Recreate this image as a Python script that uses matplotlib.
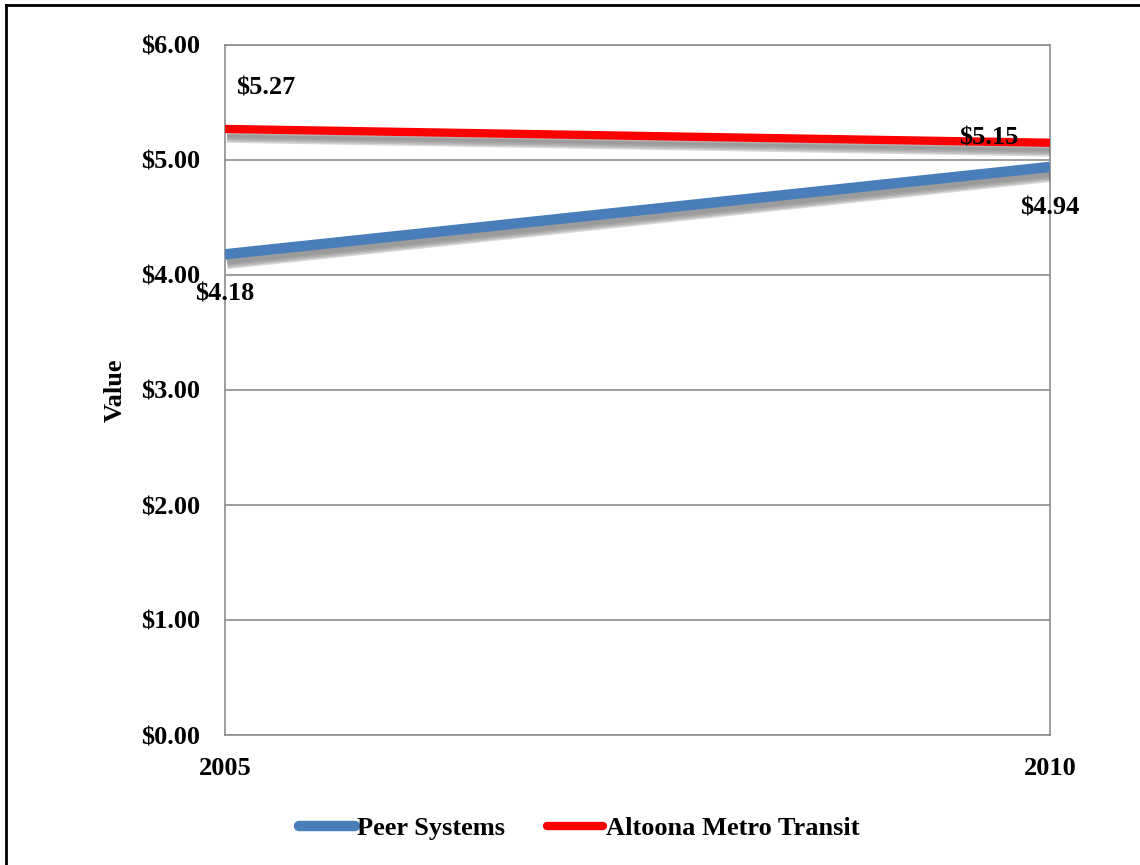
''' line chart of cost per unit, peer systems vs Altoona
'''
import matplotlib
import matplotlib.pyplot as plt
import matplotlib.ticker as mtick
import matplotlib.patheffects as pe
from matplotlib.lines import Line2D

matplotlib.use('Agg')

YEARS = ['2005', '2010']
PEER = [4.18, 4.94]
ALTOONA = [5.27, 5.15]
Y_TICKS = [0, 1, 2, 3, 4, 5, 6]

BLUE = '#4a7ebb'
RED = '#ff0000'
FONT = 'Liberation Serif'
FS = 19


def shadow():
    # fake a soft drop shadow with stacked offsets
    effects = []
    for i, a in enumerate([0.08, 0.10, 0.13, 0.16, 0.2]):
        effects.append(pe.SimpleLineShadow(offset=(1.5, -3 - i * 1.0),
                                           shadow_color='#404040', alpha=a))
    effects.append(pe.Normal())
    return effects


plt.rcParams['font.family'] = FONT
plt.rcParams['font.weight'] = 'bold'

fig = plt.figure(figsize=(11.4, 8.65), dpi=100)
ax = fig.add_axes([225 / 1140, 1 - 735 / 865, 825 / 1140, 690 / 865])

x = list(range(len(YEARS)))
ax.plot(x, PEER, color=BLUE, lw=7.5, solid_capstyle='butt', path_effects=shadow(), zorder=3)
ax.plot(x, ALTOONA, color=RED, lw=6, solid_capstyle='butt', path_effects=shadow(), zorder=4)

ax.set_xlim(0, 1)
ax.set_ylim(0, 6)
ax.set_xticks(x)
ax.set_xticklabels(YEARS, fontsize=FS, fontweight='bold')
ax.set_yticks(Y_TICKS)
ax.yaxis.set_major_formatter(mtick.StrMethodFormatter('${x:,.2f}'))
for lbl in ax.get_yticklabels():
    lbl.set_fontweight('bold')
ax.tick_params(axis='y', length=0, pad=18, labelsize=FS)
ax.tick_params(axis='x', length=0, pad=16, labelsize=FS)
ax.yaxis.grid(True, color='#8c8c8c', lw=1.2)
ax.set_axisbelow(True)
for s in ax.spines.values():
    s.set_color('#8c8c8c')
    s.set_linewidth(1.2)
ax.set_ylabel('Value', fontsize=FS, fontweight='bold', labelpad=10)

# data labels (drawn above the lines)
label_kw = dict(textcoords='offset pixels', va='center', fontsize=FS, fontweight='bold',
                zorder=6, annotation_clip=False)
ax.annotate(f'${ALTOONA[0]:.2f}', (x[0], ALTOONA[0]), xytext=(11, 41), ha='left', **label_kw)
ax.annotate(f'${ALTOONA[1]:.2f}', (x[1], ALTOONA[1]), xytext=(-61, 5), ha='center', **label_kw)
ax.annotate(f'${PEER[0]:.2f}', (x[0], PEER[0]), xytext=(0, -40), ha='center', **label_kw)
ax.annotate(f'${PEER[1]:.2f}', (x[1], PEER[1]), xytext=(0, -41), ha='center', **label_kw)

handles = [Line2D([], [], color=BLUE, lw=7.5, solid_capstyle='round'),
           Line2D([], [], color=RED, lw=6, solid_capstyle='round')]
fig.legend(handles, ['Peer Systems', 'Altoona Metro Transit'], loc='center',
           bbox_to_anchor=(0.508, 1 - 828 / 865), ncol=2, frameon=False,
           prop={'family': FONT, 'weight': 'bold', 'size': FS},
           handlelength=2.1, handletextpad=0.1, columnspacing=1.6)

# outer frame
fig.add_artist(Line2D([6 / 1140, 6 / 1140], [0, 1 - 5 / 865], transform=fig.transFigure, color='black', lw=2))
fig.add_artist(Line2D([6 / 1140, 1], [1 - 5 / 865, 1 - 5 / 865], transform=fig.transFigure, color='black', lw=2))

plt.savefig('out.png', format='png')
plt.close()
